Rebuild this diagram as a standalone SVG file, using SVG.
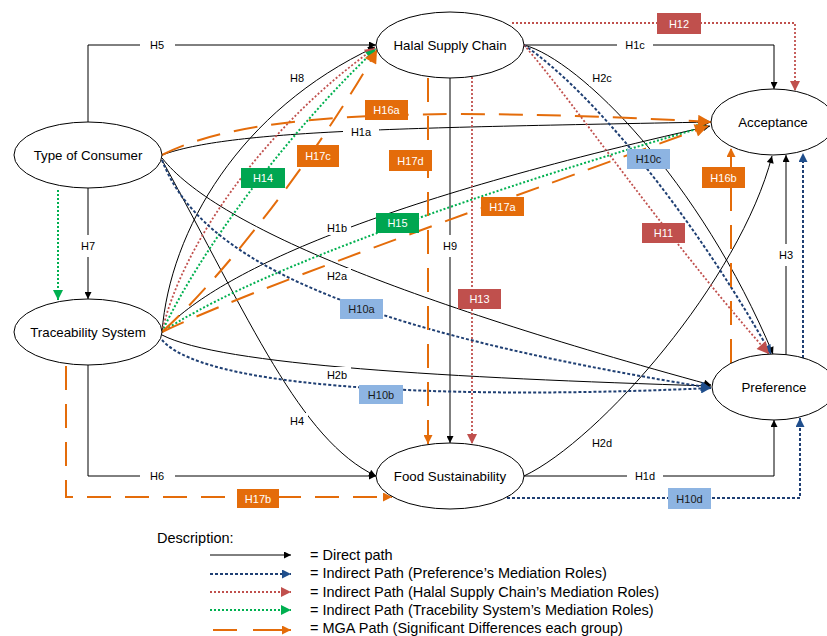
<svg xmlns="http://www.w3.org/2000/svg" width="827" height="636" viewBox="0 0 827 636">
<style>
.d{fill:none;stroke:#000;stroke-width:1}
.blue{fill:none;stroke:#1F3F73;stroke-width:2;stroke-dasharray:3 2}
.red{fill:none;stroke:#C0504D;stroke-width:1.8;stroke-dasharray:2 2}
.green{fill:none;stroke:#00B050;stroke-width:2;stroke-dasharray:2 2}
.mga{fill:none;stroke:#E46C0A;stroke-width:2;stroke-dasharray:24 14}
.node ellipse{fill:#fff;stroke:#000;stroke-width:1}
.nt{font-family:"Liberation Sans",Arial,sans-serif;font-size:13.3px;text-anchor:middle;dominant-baseline:central;fill:#000}
.lt{font-family:"Liberation Sans",Arial,sans-serif;font-size:11px;text-anchor:middle;dominant-baseline:central;fill:#000}
.bt{font-family:"Liberation Sans",Arial,sans-serif;font-size:11px;text-anchor:middle;dominant-baseline:central;fill:#fff}
.bb{font-family:"Liberation Sans",Arial,sans-serif;font-size:11px;text-anchor:middle;dominant-baseline:central;fill:#1a1a1a}
.gap{fill:#fff}
.bo{fill:#E46C0A}
.br{fill:#C0504D}
.bg{fill:#00A651}
.bl{fill:#8DB4E2}
.lg{font-family:"Liberation Sans",Arial,sans-serif;font-size:14.5px;fill:#000;dominant-baseline:central}
</style>
<defs>
<marker id="ab" viewBox="0 0 10 10" refX="10" refY="5" markerWidth="8" markerHeight="7" markerUnits="userSpaceOnUse" orient="auto"><path d="M0,0L10,5L0,10z" fill="#000"/></marker>
<marker id="abl" viewBox="0 0 10 10" refX="10" refY="5" markerWidth="13" markerHeight="10" markerUnits="userSpaceOnUse" orient="auto"><path d="M0,0L10,5L0,10z" fill="#1F4E8C"/></marker>
<marker id="abls" viewBox="0 0 10 10" refX="10" refY="5" markerWidth="10" markerHeight="9" markerUnits="userSpaceOnUse" orient="auto"><path d="M0,0L10,5L0,10z" fill="#1F4E8C"/></marker>
<marker id="ar" viewBox="0 0 10 10" refX="10" refY="5" markerWidth="12" markerHeight="10" markerUnits="userSpaceOnUse" orient="auto"><path d="M0,0L10,5L0,10z" fill="#C0504D"/></marker>
<marker id="arb" viewBox="0 0 10 10" refX="10" refY="5" markerWidth="15" markerHeight="12" markerUnits="userSpaceOnUse" orient="auto"><path d="M0,0L10,5L0,10z" fill="#C0504D"/></marker>
<marker id="ag" viewBox="0 0 10 10" refX="10" refY="5" markerWidth="11" markerHeight="10" markerUnits="userSpaceOnUse" orient="auto"><path d="M0,0L10,5L0,10z" fill="#00B050"/></marker>
<marker id="ao" viewBox="0 0 10 10" refX="10" refY="5" markerWidth="16" markerHeight="13" markerUnits="userSpaceOnUse" orient="auto"><path d="M0,0L10,5L0,10z" fill="#E46C0A"/></marker>
<marker id="aos" viewBox="0 0 10 10" refX="10" refY="5" markerWidth="10" markerHeight="9" markerUnits="userSpaceOnUse" orient="auto"><path d="M0,0L10,5L0,10z" fill="#E46C0A"/></marker>
</defs>
<rect width="827" height="636" fill="#fff"/>

<g id="connectors">
 <g id="direct">
  <path class="d" d="M88,122V45H376" marker-end="url(#ab)"/>
  <path class="d" d="M88,188V299" marker-end="url(#ab)"/>
  <path class="d" d="M88,365V476H376" marker-end="url(#ab)"/>
  <path class="d" d="M524,476H774V420" marker-end="url(#ab)"/>
  <path class="d" d="M524,45H774V89" marker-end="url(#ab)"/>
  <path class="d" d="M450,78V443" marker-end="url(#ab)"/>
  <path class="d" d="M786,355V155" marker-end="url(#ab)"/>
  <path class="d" d="M162,155C230,130 400,128 711,122" marker-end="url(#ab)"/>
  <path class="d" d="M162,332C220,270 380,200 710,126" marker-end="url(#ab)"/>
  <path class="d" d="M162,158C215,225 400,300 711,385" marker-end="url(#ab)"/>
  <path class="d" d="M162,335C220,365 450,378 711,386" marker-end="url(#ab)"/>
  <path class="d" d="M162,160C250,320 300,440 376,476" marker-end="url(#ab)"/>
  <path class="d" d="M162,332C170,230 240,110 375,47" marker-end="url(#ab)"/>
  <path class="d" d="M524,45C580,60 700,180 773,354" marker-end="url(#ab)"/>
  <path class="d" d="M524,476C600,440 740,280 772,156" marker-end="url(#ab)"/>
 </g>
 <g id="label-gaps">
  <rect class="gap" x="140" y="37" width="35" height="16"/>
  <rect class="gap" x="140" y="468" width="35" height="16"/>
  <rect class="gap" x="617" y="37" width="36" height="16"/>
  <rect class="gap" x="627" y="468" width="36" height="16"/>
  <rect class="gap" x="80" y="235" width="16" height="22"/>
  <rect class="gap" x="442" y="235" width="16" height="22"/>
  <rect class="gap" x="778" y="244" width="16" height="22"/>
  <rect class="gap" x="343" y="125" width="36" height="15"/>
  <rect class="gap" x="324" y="220" width="27" height="15"/>
  <rect class="gap" x="324" y="268" width="27" height="15"/>
  <rect class="gap" x="324" y="367" width="27" height="15"/>
  <rect class="gap" x="287" y="413" width="21" height="15"/>
  <rect class="gap" x="287" y="70" width="21" height="15"/>
  <rect class="gap" x="589" y="71" width="26" height="15"/>
  <rect class="gap" x="589" y="435" width="27" height="15"/>
 </g>
 <g id="mediation">
  <path class="green" d="M58,190V300" marker-end="url(#ag)"/>
  <path class="blue" d="M507,498H800V418" marker-end="url(#abls)"/>
  <path class="blue" d="M803,358V153" marker-end="url(#abls)"/>
  <path class="red" d="M512,23H795V91" marker-end="url(#ar)"/>
  <path class="red" d="M472,77V444" marker-end="url(#ar)"/>
  <path class="red" d="M162,332C180,250 260,130 375,48" marker-end="url(#ar)"/>
  <path class="green" d="M162,332C200,250 290,130 376,49" marker-end="url(#ag)"/>
  <path class="green" d="M162,332C240,280 420,210 707,126" marker-end="url(#ag)"/>
  <path class="blue" d="M162,160C200,260 350,330 711,388" marker-end="url(#abl)"/>
  <path class="blue" d="M162,340C210,395 500,398 711,388" marker-end="url(#abl)"/>
  <path class="blue" d="M524,45C590,90 690,210 771,354" marker-end="url(#abls)"/>
  <path class="red" d="M524,45C580,110 660,230 769,354" marker-end="url(#arb)"/>
 </g>
 <g id="mga">
  <path class="mga" d="M66,366V497H392" marker-end="url(#aos)"/>
  <path class="mga" d="M428,78V444" marker-end="url(#aos)"/>
  <path class="mga" d="M731,363V148" marker-end="url(#aos)"/>
  <path class="mga" d="M162,155C240,115 400,105 711,122" marker-end="url(#ao)"/>
  <path class="mga" d="M162,332C250,290 450,220 708,126" marker-end="url(#ao)"/>
  <path class="mga" d="M162,332C230,270 320,150 377,50" marker-end="url(#ao)"/>
 </g>
</g>

<g id="node-type-of-consumer" class="node"><ellipse cx="88" cy="155" rx="74" ry="33"/><text class="nt" x="88" y="155">Type of Consumer</text></g>
<g id="node-traceability-system" class="node"><ellipse cx="88" cy="332" rx="74" ry="33"/><text class="nt" x="88" y="332">Traceability System</text></g>
<g id="node-halal-supply-chain" class="node"><ellipse cx="450" cy="45" rx="74" ry="33"/><text class="nt" x="450" y="45">Halal Supply Chain</text></g>
<g id="node-food-sustainability" class="node"><ellipse cx="450" cy="476" rx="74" ry="33"/><text class="nt" x="450" y="476">Food Sustainability</text></g>
<g id="node-acceptance" class="node"><ellipse cx="773" cy="122" rx="62" ry="33"/><text class="nt" x="773" y="122">Acceptance</text></g>
<g id="node-preference" class="node"><ellipse cx="774" cy="387" rx="62" ry="33"/><text class="nt" x="774" y="387">Preference</text></g>

<g id="labels">
 <text class="lt" x="157" y="45">H5</text>
 <text class="lt" x="157" y="476">H6</text>
 <text class="lt" x="635" y="45">H1c</text>
 <text class="lt" x="645" y="476">H1d</text>
 <text class="lt" x="88" y="246">H7</text>
 <text class="lt" x="450" y="246">H9</text>
 <text class="lt" x="786" y="255">H3</text>
 <text class="lt" x="361" y="132">H1a</text>
 <text class="lt" x="337" y="228">H1b</text>
 <text class="lt" x="337" y="276">H2a</text>
 <text class="lt" x="337" y="375">H2b</text>
 <text class="lt" x="297" y="421">H4</text>
 <text class="lt" x="297" y="78">H8</text>
 <text class="lt" x="602" y="78">H2c</text>
 <text class="lt" x="602" y="443">H2d</text>

 <rect class="br" x="657" y="13" width="44" height="21"/><text class="bt" x="679" y="23.5">H12</text>
 <rect class="bo" x="365" y="100" width="43" height="20"/><text class="bt" x="386.5" y="110">H16a</text>
 <rect class="bo" x="297" y="145" width="42" height="22"/><text class="bt" x="318" y="156">H17c</text>
 <rect class="bo" x="389" y="150" width="43" height="21"/><text class="bt" x="410.5" y="160.5">H17d</text>
 <rect class="bg" x="241" y="168" width="44" height="20"/><text class="bt" x="263" y="178">H14</text>
 <rect class="bg" x="376" y="213" width="43" height="20"/><text class="bt" x="397.5" y="223">H15</text>
 <rect class="bo" x="481" y="197" width="43" height="19"/><text class="bt" x="502.5" y="206.5">H17a</text>
 <rect class="bl" x="627" y="149" width="43" height="20"/><text class="bb" x="648.5" y="159">H10c</text>
 <rect class="bo" x="702" y="167" width="43" height="21"/><text class="bt" x="723.5" y="177.5">H16b</text>
 <rect class="br" x="642" y="223" width="43" height="20"/><text class="bt" x="663.5" y="233">H11</text>
 <rect class="br" x="458" y="289" width="43" height="20"/><text class="bt" x="479.5" y="299">H13</text>
 <rect class="bl" x="340" y="299" width="43" height="20"/><text class="bb" x="361.5" y="309">H10a</text>
 <rect class="bl" x="359" y="385" width="44" height="19"/><text class="bb" x="381" y="394.5">H10b</text>
 <rect class="bl" x="668" y="488" width="43" height="21"/><text class="bb" x="689.5" y="498.5">H10d</text>
 <rect class="bo" x="237" y="489" width="42" height="19"/><text class="bt" x="258" y="498.5">H17b</text>
</g>

<g id="legend">
 <text class="lg" x="157" y="538">Description:</text>
 <line class="d" x1="210" y1="555" x2="291" y2="555" marker-end="url(#ab)"/>
 <line class="blue" x1="210" y1="574" x2="291" y2="574" marker-end="url(#abls)"/>
 <line class="red" x1="210" y1="592" x2="291" y2="592" marker-end="url(#ar)"/>
 <line class="green" x1="210" y1="610" x2="291" y2="610" marker-end="url(#ag)"/>
 <line x1="213" y1="630" x2="237" y2="630" stroke="#E46C0A" stroke-width="2"/>
 <line x1="253" y1="630" x2="291" y2="630" stroke="#E46C0A" stroke-width="2" marker-end="url(#aos)"/>
 <text class="lg" x="310" y="555">= Direct path</text>
 <text class="lg" x="310" y="573">= Indirect Path (Preference’s Mediation Roles)</text>
 <text class="lg" x="310" y="592">= Indirect Path (Halal Supply Chain’s Mediation Roles)</text>
 <text class="lg" x="310" y="610">= Indirect Path (Tracebility System’s Mediation Roles)</text>
 <text class="lg" x="310" y="628">= MGA Path (Significant Differences each group)</text>
</g>
</svg>
